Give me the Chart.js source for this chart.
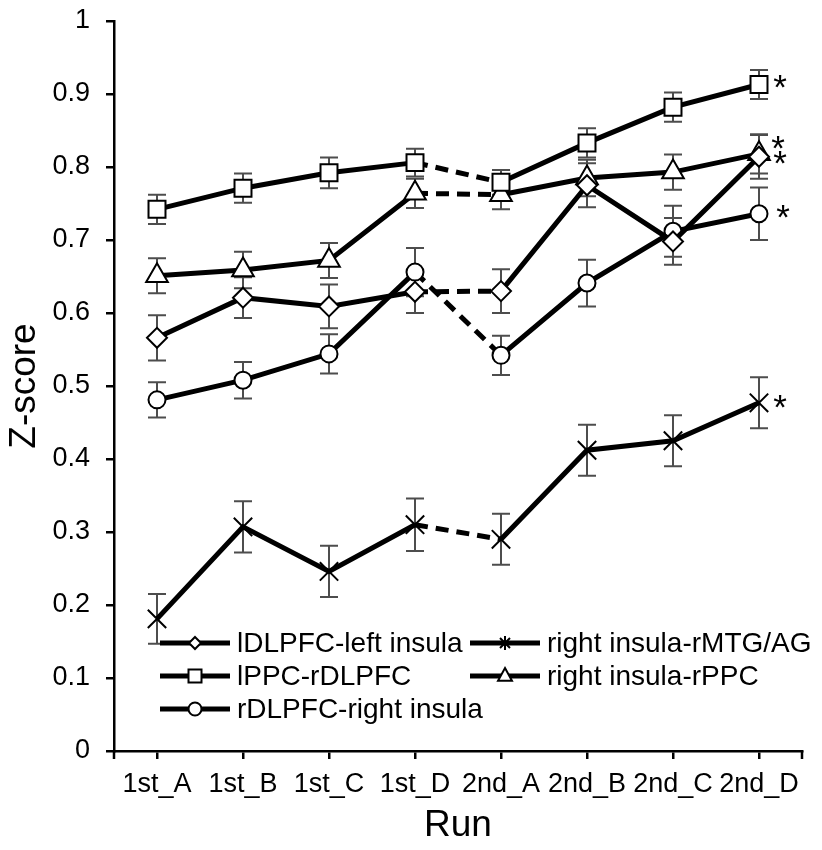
<!DOCTYPE html>
<html lang="en">
<head>
  <meta charset="UTF-8">
  <title>Z-score by run</title>
  <script src="https://cdn.jsdelivr.net/npm/chart.js"></script>
  <style>
    body { margin: 0; background: #fff; }
  </style>
</head>
<body>
  <canvas id="chart" width="822" height="850"></canvas>
  <script>
    const runs = ['1st_A', '1st_B', '1st_C', '1st_D', '2nd_A', '2nd_B', '2nd_C', '2nd_D'];
    const yTickLabels = ['0', '0.1', '0.2', '0.3', '0.4', '0.5', '0.6', '0.7', '0.8', '0.9', '1'];

    const lDLPFCInsula = [0.566, 0.621, 0.609, 0.629, 0.630, 0.775, 0.698, 0.814];
    const lDLPFCInsulaErr = [0.031, 0.028, 0.030, 0.029, 0.030, 0.030, 0.032, 0.030];
    const lPPCrDLPFC = [0.742, 0.771, 0.792, 0.806, 0.779, 0.833, 0.882, 0.913];
    const lPPCrDLPFCErr = [0.020, 0.020, 0.021, 0.019, 0.017, 0.020, 0.020, 0.020];
    const rDLPFCInsula = [0.481, 0.508, 0.544, 0.656, 0.542, 0.641, 0.712, 0.736];
    const rDLPFCInsulaErr = [0.024, 0.025, 0.027, 0.033, 0.027, 0.032, 0.035, 0.036];
    const insulaMTG = [0.181, 0.307, 0.246, 0.310, 0.290, 0.412, 0.425, 0.477];
    const insulaMTGErr = [0.034, 0.035, 0.035, 0.036, 0.035, 0.035, 0.035, 0.035];
    const insulaPPC = [0.651, 0.659, 0.672, 0.764, 0.762, 0.785, 0.793, 0.818];
    const insulaPPCErr = [0.024, 0.025, 0.024, 0.020, 0.020, 0.025, 0.024, 0.027];

    const FONT = "'Liberation Sans', Arial, sans-serif";

    function series(label, data, err, style, radius) {
      return {
        label, data, err,
        borderColor: '#000',
        borderWidth: 5,
        pointStyle: style,
        pointRadius: radius,
        pointHoverRadius: radius,
        pointBackgroundColor: '#fff',
        pointBorderColor: '#000',
        pointBorderWidth: 2,
        tension: 0,
        segment: { borderDash: c => c.p0DataIndex === 3 ? [13, 8] : undefined }
      };
    }

    // error bars behind the lines
    const errorBars = {
      id: 'errorBars',
      beforeDatasetsDraw(chart) {
        const { ctx, scales: { x, y } } = chart;
        ctx.save();
        ctx.strokeStyle = '#4d4d4d';
        ctx.lineWidth = 2;
        chart.data.datasets.forEach(ds => {
          ds.data.forEach((v, i) => {
            const px = x.getPixelForValue(i);
            const top = y.getPixelForValue(v + ds.err[i]);
            const bot = y.getPixelForValue(v - ds.err[i]);
            ctx.beginPath();
            ctx.moveTo(px, top); ctx.lineTo(px, bot);
            ctx.moveTo(px - 9, top); ctx.lineTo(px + 9, top);
            ctx.moveTo(px - 9, bot); ctx.lineTo(px + 9, bot);
            ctx.stroke();
          });
        });
        ctx.restore();
      }
    };

    function drawMarker(ctx, style, x, y, r) {
      ctx.beginPath();
      if (style === 'circle') {
        ctx.arc(x, y, r, 0, Math.PI * 2);
      } else if (style === 'rect') {
        ctx.rect(x - r, y - r, 2 * r, 2 * r);
      } else if (style === 'rectRot') {
        ctx.moveTo(x, y - r); ctx.lineTo(x + r, y); ctx.lineTo(x, y + r); ctx.lineTo(x - r, y); ctx.closePath();
      } else if (style === 'triangle') {
        ctx.moveTo(x, y - r); ctx.lineTo(x + r * 0.87, y + r * 0.6); ctx.lineTo(x - r * 0.87, y + r * 0.6); ctx.closePath();
      }
      if (style === 'crossRot') {
        ctx.moveTo(x - r, y - r); ctx.lineTo(x + r, y + r);
        ctx.moveTo(x + r, y - r); ctx.lineTo(x - r, y + r);
        ctx.moveTo(x, y - r - 2); ctx.lineTo(x, y + r + 2);
      } else {
        ctx.fill();
      }
      ctx.stroke();
    }

    // legend inside plot area (two columns) + significance stars + end ticks
    const extras = {
      id: 'extras',
      afterDatasetsDraw(chart) {
        const { ctx, chartArea: a, scales: { x, y } } = chart;
        const ds = chart.data.datasets;
        ctx.save();

        // stars at last run
        ctx.fillStyle = '#000';
        ctx.font = `35px ${FONT}`;
        ctx.textAlign = 'center';
        ctx.textBaseline = 'alphabetic';
        const starShift = [[21, 2], [21, -2], [24, -1], [21, 0], [19, -10]];
        ds.forEach((d, k) => {
          const last = d.data.length - 1;
          const px = x.getPixelForValue(last) + starShift[k][0];
          const py = y.getPixelForValue(d.data[last]) + starShift[k][1];
          ctx.fillText('*', px, py + 16);
        });

        // legend
        const items = [[0, 0, 0], [1, 0, 1], [2, 0, 2], [3, 1, 0], [4, 1, 1]];
        const sizes = { rectRot: 6, rect: 6.5, circle: 6.5, crossRot: 5, triangle: 8 };
        ctx.font = `28px ${FONT}`;
        ctx.textAlign = 'left';
        ctx.textBaseline = 'middle';
        items.forEach(([k, col, row]) => {
          const x0 = a.left + (col ? 356 : 46);
          const yy = a.bottom - 108 + row * 33;
          ctx.strokeStyle = '#000';
          ctx.lineWidth = 5;
          ctx.beginPath();
          ctx.moveTo(x0, yy); ctx.lineTo(x0 + 70, yy);
          ctx.stroke();
          ctx.lineWidth = 2;
          ctx.fillStyle = '#fff';
          drawMarker(ctx, ds[k].pointStyle, x0 + 35, yy, sizes[ds[k].pointStyle]);
          ctx.fillStyle = '#000';
          ctx.fillText(ds[k].label, x0 + 77, yy + 1);
        });

        // small ticks at the ends of the x axis
        ctx.strokeStyle = '#000';
        ctx.lineWidth = 2.5;
        ctx.beginPath();
        ctx.moveTo(a.left, a.bottom); ctx.lineTo(a.left, a.bottom + 8);
        ctx.moveTo(a.right, a.bottom); ctx.lineTo(a.right, a.bottom + 8);
        ctx.stroke();
        ctx.restore();
      }
    };

    new Chart(document.getElementById('chart'), {
      type: 'line',
      data: {
        labels: runs,
        datasets: [
          series('lDLPFC-left insula', lDLPFCInsula, lDLPFCInsulaErr, 'rectRot', 10),
          series('lPPC-rDLPFC', lPPCrDLPFC, lPPCrDLPFCErr, 'rect', 12),
          series('rDLPFC-right insula', rDLPFCInsula, rDLPFCInsulaErr, 'circle', 8.5),
          series('right insula-rMTG/AG', insulaMTG, insulaMTGErr, 'crossRot', 13),
          series('right insula-rPPC', insulaPPC, insulaPPCErr, 'triangle', 12.5)
        ]
      },
      options: {
        responsive: false,
        animation: false,
        events: [],
        layout: { padding: { top: 21, right: 20, left: 0, bottom: 0 } },
        plugins: {
          legend: { display: false },
          tooltip: { enabled: false }
        },
        scales: {
          x: {
            offset: true,
            grid: { offset: false, drawOnChartArea: false, drawTicks: true, tickLength: 8, color: '#000', lineWidth: 2.5 },
            border: { display: true, color: '#000', width: 2.5 },
            ticks: { color: '#000', font: { family: FONT, size: 27 }, padding: 9, maxRotation: 0, autoSkip: false },
            title: { display: true, text: 'Run', color: '#000', font: { family: FONT, size: 37 }, padding: { top: 0, bottom: 2 } },
            afterFit: s => { s.height = 99; s.paddingLeft = 0; s.paddingRight = 0; }
          },
          y: {
            min: 0,
            max: 1,
            grid: { drawOnChartArea: false, drawTicks: true, tickLength: 8, color: '#000', lineWidth: 2.5 },
            border: { display: true, color: '#000', width: 2.5 },
            ticks: {
              stepSize: 0.1,
              color: '#000',
              font: { family: FONT, size: 27 },
              padding: 16,
              callback: v => yTickLabels[Math.round(v * 10)]
            },
            title: { display: true, text: 'Z-score', color: '#000', font: { family: FONT, size: 37 }, padding: { top: 3, bottom: 0 } },
            afterFit: s => { s.width = 114; s.paddingTop = 0; s.paddingBottom = 0; }
          }
        }
      },
      plugins: [errorBars, extras]
    });
  </script>
</body>
</html>
